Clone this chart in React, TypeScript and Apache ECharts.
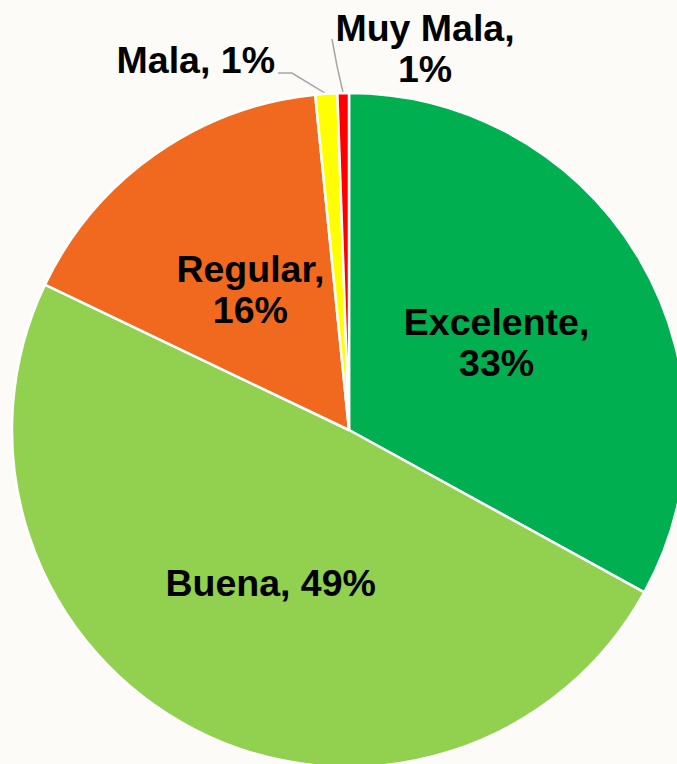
import React, { useEffect, useRef } from "react";
import * as echarts from "echarts";

const categories = ["Excelente", "Buena", "Regular", "Mala", "Muy Mala"];
const shares = [33.0, 49.1, 16.3, 1.05, 0.55];
const colors = ["#00B050", "#92D050", "#F1691F", "#FFFF00", "#FF0000"];
const twoLineLabel = [true, false, true, false, true];

export default function App() {
  const ref = useRef<HTMLDivElement>(null);
  useEffect(() => {
    if (!ref.current) return;
    const chart = echarts.init(ref.current, null, { renderer: "svg" });
    const fontFamily = "'Liberation Sans', Arial, sans-serif";
    chart.setOption({
      animation: false,
      backgroundColor: "#FCFBF8",
      series: [
        {
          type: "pie",
          center: [349, 430],
          radius: 337,
          startAngle: 90,
          clockwise: true,
          avoidLabelOverlap: false,
          itemStyle: { borderColor: "#FFFFFF", borderWidth: 2.5 },
          label: {
            show: true,
            position: "inside",
            fontFamily,
            fontWeight: "bold",
            fontSize: 37.5,
            lineHeight: 41,
            color: "#000000",
            align: "center",
            formatter: (p: any) =>
              p.name +
              "," +
              (twoLineLabel[p.dataIndex] ? "\n" : " ") +
              Math.round(p.value) +
              "%",
          },
          labelLine: { show: false },
          labelLayout: (params: any) => {
            const anchor =
              params.labelLinePoints && params.labelLinePoints[0]
                ? params.labelLinePoints[0]
                : null;
            if (params.dataIndex === 3) {
              const ax = anchor ? anchor[0] : 325;
              const ay = anchor ? anchor[1] : 94;
              return {
                x: 275,
                y: 60,
                align: "right",
                verticalAlign: "middle",
                labelLinePoints: [
                  [ax, ay],
                  [292, 73],
                  [278, 73],
                ],
              };
            }
            if (params.dataIndex === 4) {
              const ax = anchor ? anchor[0] : 342;
              const ay = anchor ? anchor[1] : 94;
              return {
                x: 425,
                y: 48,
                align: "center",
                verticalAlign: "middle",
                labelLinePoints: [
                  [ax, ay],
                  [337, 66],
                  [332, 39],
                ],
              };
            }
            return {};
          },
          data: categories.map((name, i) => {
            const item: any = {
              name,
              value: shares[i],
              itemStyle: { color: colors[i] },
            };
            if (i >= 3) {
              item.label = { position: "outside" };
              item.labelLine = {
                show: true,
                length: 10,
                length2: 10,
                lineStyle: { color: "#A6A6A6", width: 1.5 },
              };
            }
            return item;
          }),
        },
      ],
    });
    return () => chart.dispose();
  }, []);
  return (
    <div
      ref={ref}
      style={{ position: "fixed", left: 0, top: 0, width: 677, height: 764 }}
    />
  );
}
